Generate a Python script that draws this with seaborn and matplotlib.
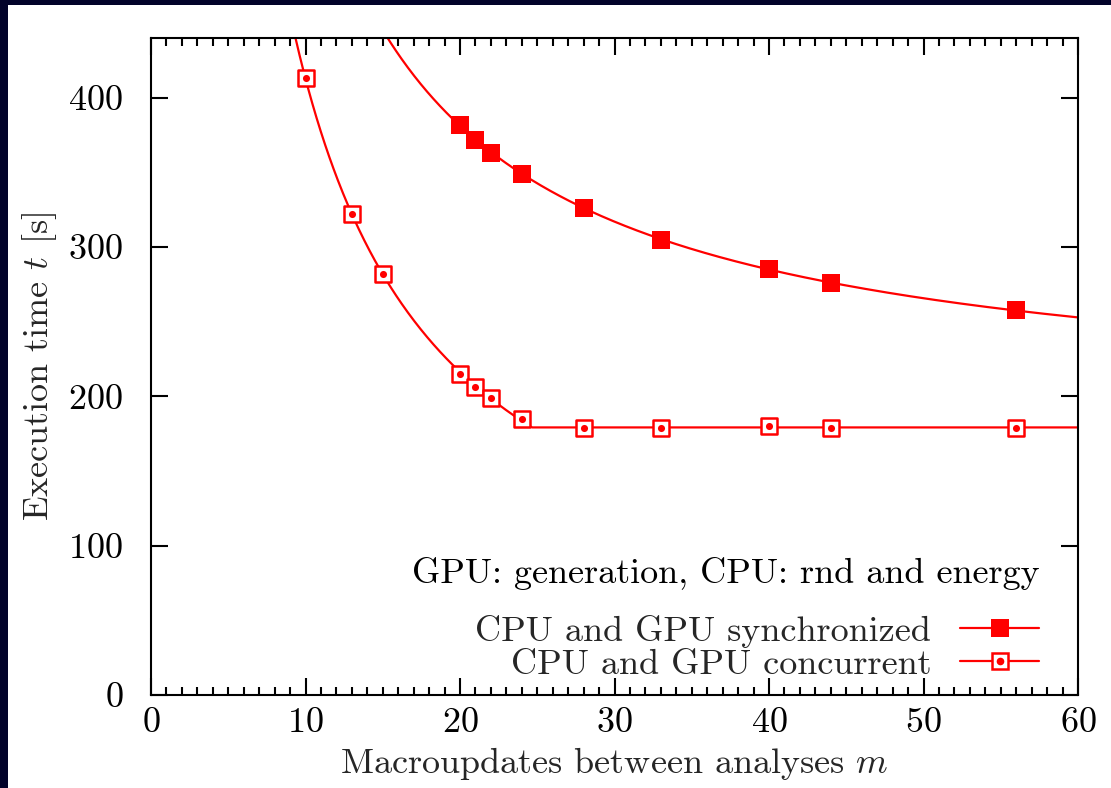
import numpy as np
import pandas as pd
import matplotlib
matplotlib.use("Agg")
import matplotlib.pyplot as plt
import seaborn as sns
from matplotlib.lines import Line2D
from matplotlib.legend_handler import HandlerTuple
from matplotlib.ticker import MultipleLocator

# ---- data ----
m_sync = [20, 21, 22, 24, 28, 33, 40, 44, 56]
t_sync = [382, 372, 363, 349, 326, 305, 285, 276, 258]
m_conc = [10, 13, 15, 20, 21, 22, 24, 28, 33, 40, 44, 56]
t_conc = [413, 322, 282, 215, 206, 199, 185, 179, 179, 180, 179, 179]

x_ticks = [0, 10, 20, 30, 40, 50, 60]
y_ticks = [0, 100, 200, 300, 400]

label_sync = "CPU and GPU synchronized"
label_conc = "CPU and GPU concurrent"
legend_title = "GPU: generation, CPU: rnd and energy"
xlabel = r"Macroupdates between analyses $m$"
ylabel = r"Execution time $t$ [s]"

# ---- fitted curves (least squares a + b/m, derived from the points) ----
ms = np.array(m_sync, float); ts = np.array(t_sync, float)
A = np.c_[np.ones_like(ms), 1 / ms]
a_s, b_s = np.linalg.lstsq(A, ts, rcond=None)[0]

mc = np.array(m_conc, float); tc = np.array(t_conc, float)
dec = mc <= 24
Ac = np.c_[np.ones(dec.sum()), 1 / mc[dec]]
a_c, b_c = np.linalg.lstsq(Ac, tc[dec], rcond=None)[0]
plateau = tc[~dec].mean()

xx = np.linspace(5, 60, 800)
fit_df = pd.DataFrame({
    "m": np.r_[xx, xx],
    "t": np.r_[a_s + b_s / xx, np.maximum(a_c + b_c / xx, plateau)],
    "series": [label_sync] * len(xx) + [label_conc] * len(xx),
})

sns.set_theme(style="ticks")
plt.rcParams["font.family"] = ["cmr10", "DejaVu Serif"]
plt.rcParams["mathtext.fontset"] = "cm"
plt.rcParams["axes.formatter.use_mathtext"] = True

red = "#ff0000"
fs = 26

fig = plt.figure(figsize=(11.11, 7.88), dpi=100)
fig.patch.set_facecolor("#02032a")
fig.add_artist(plt.Rectangle((8 / 1111, 0), 1, 1 - 5 / 788, transform=fig.transFigure,
                             facecolor="white", edgecolor="none", zorder=-10))
ax = fig.add_axes([151 / 1111, 1 - 695 / 788, 927 / 1111, 657 / 788])
ax.set_facecolor("white")

for s in [label_sync, label_conc]:
    sns.lineplot(data=fit_df[fit_df.series == s], x="m", y="t", color=red, lw=1.6,
                 ax=ax, legend=False, zorder=2)

sns.scatterplot(x=m_sync, y=t_sync, marker="s", s=160, color=red, edgecolor=red,
                linewidth=0, ax=ax, zorder=3)
sns.scatterplot(x=m_conc, y=t_conc, marker="s", s=120, facecolor="white", edgecolor=red,
                linewidth=1.8, ax=ax, zorder=3)
sns.scatterplot(x=m_conc, y=t_conc, marker="o", s=26, color=red, linewidth=0, ax=ax, zorder=4)

ax.set_xlim(0, 60)
ax.set_ylim(0, 440)
ax.set_xticks(x_ticks)
ax.set_yticks(y_ticks)
ax.xaxis.set_minor_locator(MultipleLocator(1))
ax.tick_params(which="both", direction="in", top=True, right=True, width=1.5,
               labelsize=fs, colors="black")
ax.tick_params(axis="x", which="both", pad=9)
ax.tick_params(axis="y", which="both", pad=20)
ax.tick_params(which="major", length=12)
ax.tick_params(which="minor", length=6)
for sp in ax.spines.values():
    sp.set_linewidth(1.5)
    sp.set_color("black")

ax.set_xlabel(xlabel, fontsize=fs, labelpad=4)
ax.set_ylabel(ylabel, fontsize=fs, labelpad=7)

h_sync = Line2D([], [], color=red, lw=1.6, marker="s", markersize=12.5, markeredgewidth=0)
h_conc_sq = Line2D([], [], color=red, lw=1.6, marker="s", markersize=11,
                   markerfacecolor="white", markeredgecolor=red, markeredgewidth=1.8)
h_conc_dot = Line2D([], [], color="none", marker="o", markersize=5.5, markerfacecolor=red,
                    markeredgewidth=0)
leg = ax.legend([h_sync, (h_conc_sq, h_conc_dot)], [label_sync, label_conc],
                handler_map={tuple: HandlerTuple(ndivide=1, pad=0)},
                title=legend_title, loc="lower right",
                bbox_to_anchor=(0.974, 0.0), frameon=False, fontsize=fs,
                title_fontsize=fs, markerfirst=False, alignment="right",
                handlelength=2.2, handletextpad=0.8, labelspacing=0.02,
                borderpad=0.2, borderaxespad=0.2)
leg.get_title().set_color("black")
leg._legend_box.sep = 18

fig.savefig("out.png", dpi=100, facecolor=fig.get_facecolor())
